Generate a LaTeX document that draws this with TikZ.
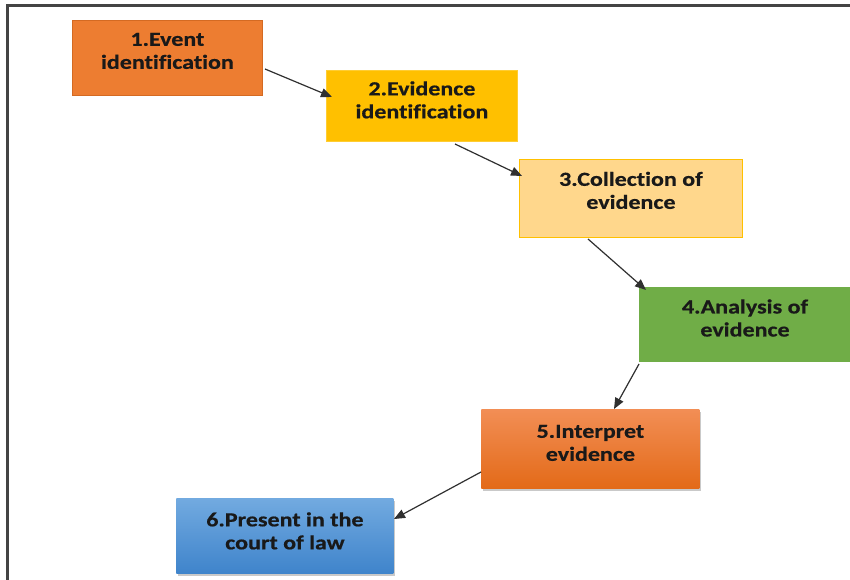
\documentclass[tikz,border=0pt]{standalone}
\usepackage{fontspec}
\setmainfont{Carlito}[FakeStretch=1.2, Ligatures=NoCommon]
\usetikzlibrary{arrows.meta,shadows}

\definecolor{orangeA}{HTML}{ED7D31}
\definecolor{orangeAline}{HTML}{D46A22}
\definecolor{goldB}{HTML}{FFC000}
\definecolor{paleC}{HTML}{FFD78C}
\definecolor{greenD}{HTML}{70AD47}
\definecolor{orangeTop}{HTML}{F28E55}
\definecolor{orangeBot}{HTML}{E36A18}
\definecolor{blueTop}{HTML}{72AAE0}
\definecolor{blueBot}{HTML}{3F84CB}
\definecolor{frameline}{HTML}{444444}
\definecolor{arrowline}{HTML}{303030}

\tikzset{
  stagebox/.style={rectangle, inner sep=0pt, line width=0.8pt},
  stagetext/.style={font=\fontsize{20}{23}\selectfont\bfseries\addfontfeature{FakeBold=0.6}, align=center, text=black!90, inner sep=0pt},
  flowarrow/.style={draw=arrowline, line width=1.2pt, -{Triangle[length=11pt,width=9pt]}},
  boxshadow/.style={drop shadow={shadow xshift=1.5pt, shadow yshift=-2.5pt, opacity=0.35, fill=black!60}}
}

\begin{document}
\begin{tikzpicture}[x=1pt,y=-1pt]
  \useasboundingbox (0,0) rectangle (850,580);
  \fill[white] (0,0) rectangle (850,580);

  % outer frame (top and left edges)
  \draw[frameline, line width=2.2pt] (7.5,580) -- (7.5,5.5) -- (850,5.5);

  % stage boxes
  \node[stagebox, fill=orangeA, draw=orangeAline, minimum width=190pt, minimum height=75pt, anchor=north west] (b1) at (72,20) {};
  \node[stagebox, fill=goldB, draw=goldB!80!white, minimum width=191pt, minimum height=71pt, anchor=north west] (b2) at (326,70) {};
  \node[stagebox, fill=paleC, draw=goldB, minimum width=223pt, minimum height=78pt, anchor=north west] (b3) at (519,159) {};
  \node[stagebox, fill=greenD, minimum width=215pt, minimum height=75pt, anchor=north west] (b4) at (639,287) {};
  \node[stagebox, boxshadow, top color=orangeTop, bottom color=orangeBot, minimum width=218pt, minimum height=79pt, anchor=north west] (b5) at (481,409) {};
  \node[stagebox, boxshadow, top color=blueTop, bottom color=blueBot, minimum width=217pt, minimum height=75pt, anchor=north west] (b6) at (176,498) {};

  % stage labels
  \node[stagetext] (t1) at ([yshift=7pt]b1.center) {1.Event\\identification};
  \node[stagetext] (t2) at ([yshift=6pt]b2.center) {2.Evidence\\identification};
  \node[stagetext] (t3) at ([yshift=8pt]b3.center) {3.Collection of\\evidence};
  \node[stagetext] (t4) at (745,318) {4.Analysis of\\evidence};
  \node[stagetext] (t5) at ([yshift=6pt]b5.center) {5.Interpret\\evidence};
  \node[stagetext] (t6) at ([yshift=5pt]b6.center) {6.Present in the\\court of law};

  % connectors
  \coordinate (s1) at (265,69);
  \coordinate (e1) at (332,97);
  \coordinate (s2) at (455,144);
  \coordinate (e2) at (522,176);
  \coordinate (s3) at (588,239);
  \coordinate (e3) at (646,290);
  \coordinate (s4) at (639,364);
  \coordinate (e4) at (614,409);
  \coordinate (s5) at (481,472);
  \coordinate (e5) at (394,519);
  \draw[flowarrow] (s1) -- (e1);
  \draw[flowarrow] (s2) -- (e2);
  \draw[flowarrow] (s3) -- (e3);
  \draw[flowarrow] (s4) -- (e4);
  \draw[flowarrow] (s5) -- (e5);
\end{tikzpicture}
\end{document}
